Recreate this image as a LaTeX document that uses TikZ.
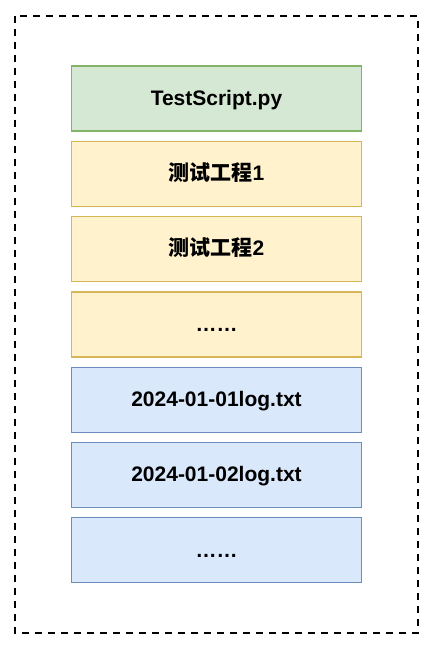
\documentclass[tikz,border=0pt]{standalone}
\usepackage{fontspec}
\setmainfont{Liberation Sans}
\newfontfamily\cjk{Noto Sans CJK SC}
\usepackage{tikz}
\usetikzlibrary{positioning}
\definecolor{scriptfill}{HTML}{D5E8D4}
\definecolor{scriptdraw}{HTML}{82B366}
\definecolor{projfill}{HTML}{FFF2CC}
\definecolor{projdraw}{HTML}{D6B656}
\definecolor{logfill}{HTML}{DAE8FC}
\definecolor{logdraw}{HTML}{6C8EBF}
\tikzset{item/.style={rectangle,draw,line width=1.3pt,minimum width=290pt,minimum height=65pt,
inner sep=0pt,text height=15pt,text depth=1.5pt,font=\fontsize{21}{24}\selectfont\bfseries,text=black},
script/.style={item,fill=scriptfill,draw=scriptdraw},
proj/.style={item,fill=projfill,draw=projdraw},
logf/.style={item,fill=logfill,draw=logdraw}}
\tikzstyle{frame} = [draw=black,line width=2.4pt,dash pattern=on 7pt off 6pt]

\begin{document}
\begin{tikzpicture}[x=1pt,y=1pt,node distance=9pt]
		\useasboundingbox (0,0) rectangle (435,-650);
		\draw[frame] (15,-16) rectangle (418,-633);

		\node[script] (S) at (216.5,-98.5) {TestScript.py};
		\node[proj,below=of S] (P1) {{\cjk 测试工程}1};
		\node[proj,below=of P1] (P2) {{\cjk 测试工程}2};
		\node[proj,below=of P2] (P3) {……};
		\node[logf,below=of P3] (L1) {2024-01-01log.txt};
		\node[logf,below=of L1] (L2) {2024-01-02log.txt};
		\node[logf,below=of L2] (L3) {……};
	\end{tikzpicture}
\end{document}
